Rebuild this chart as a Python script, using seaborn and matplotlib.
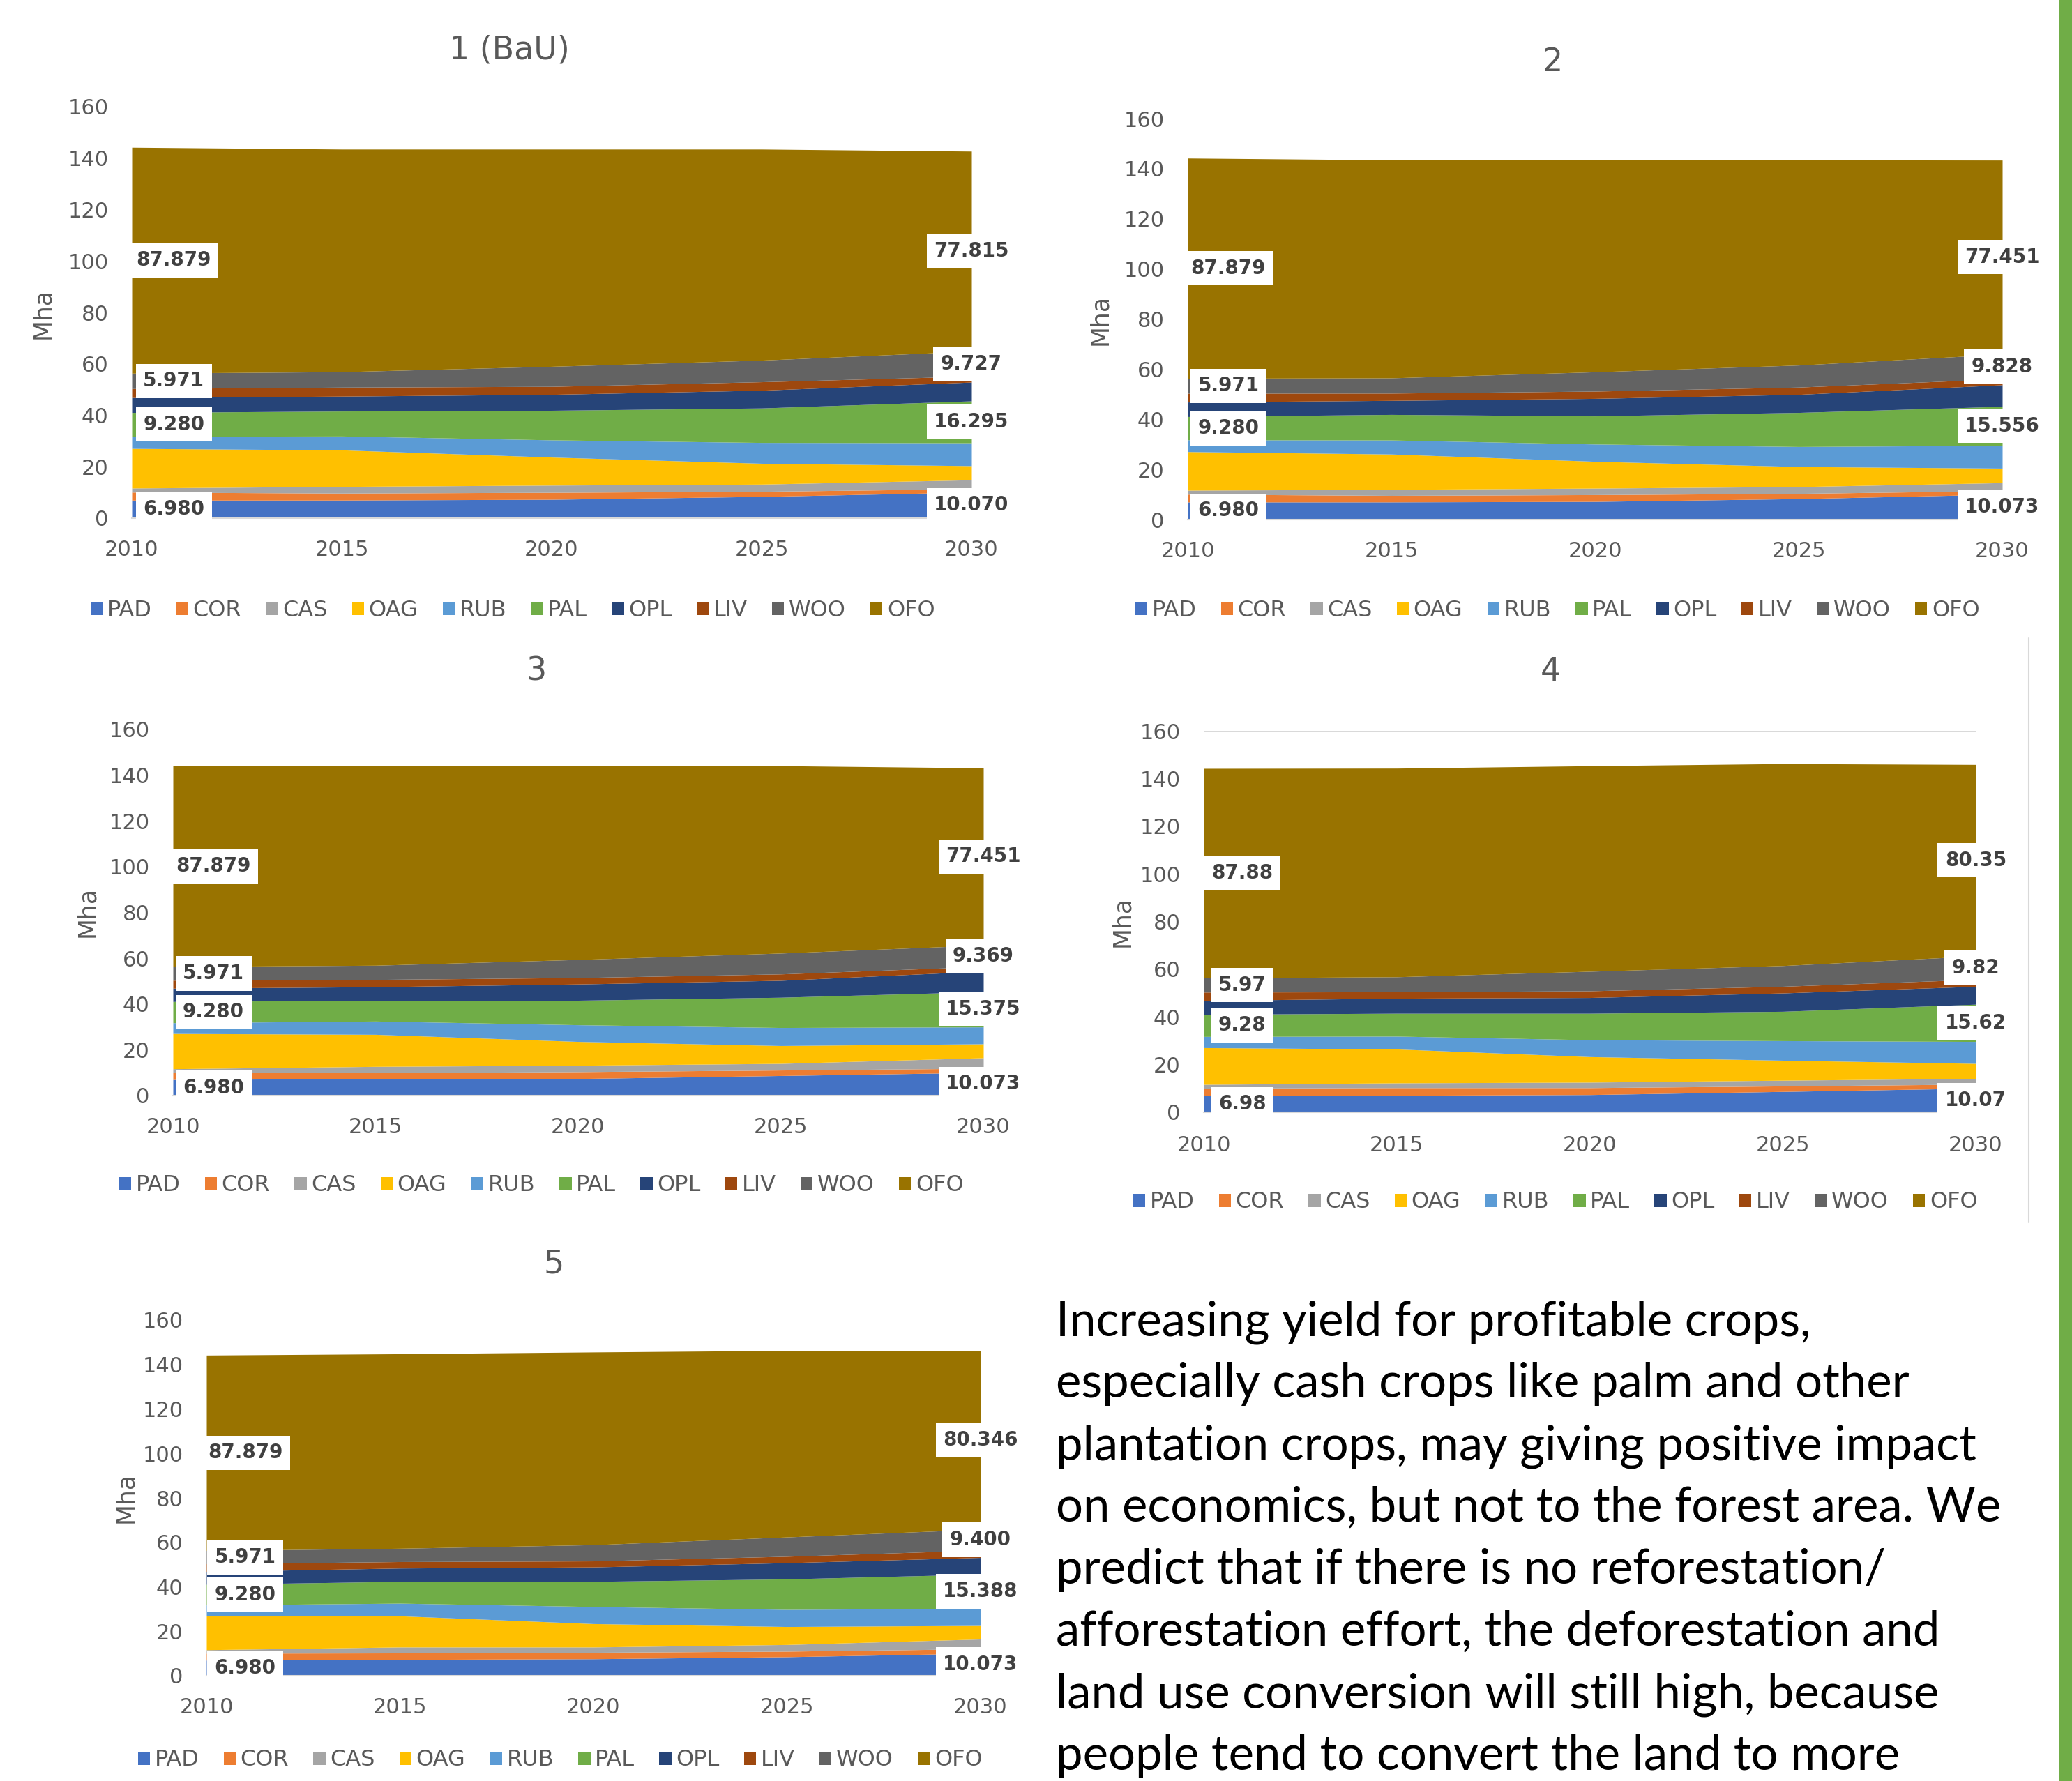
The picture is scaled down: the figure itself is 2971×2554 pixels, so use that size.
import numpy as np
import pandas as pd
import matplotlib
matplotlib.use("Agg")
import matplotlib.pyplot as plt
from matplotlib.patches import Patch, Rectangle
from matplotlib.lines import Line2D
import seaborn as sns

YEARS = [2010, 2015, 2020, 2025, 2030]
CROPS = ["PAD", "COR", "CAS", "OAG", "RUB", "PAL", "OPL", "LIV", "WOO", "OFO"]
COLORS = ["#4472C4", "#ED7D31", "#A5A5A5", "#FFC000", "#5B9BD5",
          "#70AD47", "#264478", "#9E480E", "#636363", "#997300"]
LABELLED = ["PAD", "PAL", "WOO", "OFO"]
TITLES = ["1 (BaU)", "2", "3", "4", "5"]

# land use per class (Mha), 2010..2030
SCEN_1 = {
    "PAD": [6.980, 7.0, 7.3, 8.4, 10.070],
    "COR": [3.1, 2.7, 2.7, 2.0, 1.3],
    "CAS": [1.6, 2.6, 2.8, 2.8, 3.5],
    "OAG": [15.4, 14.2, 10.9, 8.1, 5.5],
    "RUB": [4.7, 5.4, 6.7, 8.1, 8.9],
    "PAL": [9.280, 9.7, 11.5, 13.4, 16.295],
    "OPL": [5.8, 5.8, 6.2, 6.9, 7.3],
    "LIV": [3.5, 3.5, 3.1, 3.3, 2.3],
    "WOO": [5.971, 6.0, 7.8, 8.4, 9.727],
    "OFO": [87.879, 86.6, 84.5, 82.1, 77.815],
}
SCEN_2 = {
    "PAD": [6.980, 7.0, 7.2, 8.3, 10.073],
    "COR": [3.1, 2.6, 2.7, 2.1, 1.4],
    "CAS": [1.6, 2.4, 2.6, 2.7, 3.2],
    "OAG": [15.4, 14.1, 10.7, 8.0, 5.8],
    "RUB": [4.7, 5.6, 6.9, 8.0, 9.1],
    "PAL": [9.280, 10.2, 11.2, 13.6, 15.556],
    "OPL": [5.8, 5.6, 7.0, 7.2, 8.6],
    "LIV": [3.5, 2.9, 2.9, 2.9, 2.4],
    "WOO": [5.971, 6.1, 7.7, 8.8, 9.828],
    "OFO": [87.879, 87.0, 84.6, 81.9, 77.451],
}
SCEN_3 = {
    "PAD": [6.980, 7.4, 7.4, 8.7, 10.073],
    "COR": [3.1, 2.5, 3.0, 2.4, 1.8],
    "CAS": [1.6, 2.8, 2.8, 2.9, 4.6],
    "OAG": [15.4, 14.0, 10.4, 7.8, 6.1],
    "RUB": [4.7, 5.8, 7.3, 7.9, 7.4],
    "PAL": [9.280, 9.1, 10.7, 13.2, 15.375],
    "OPL": [5.8, 5.9, 7.1, 7.4, 9.0],
    "LIV": [3.5, 3.2, 2.8, 2.8, 2.0],
    "WOO": [5.971, 6.2, 7.9, 9.1, 9.369],
    "OFO": [87.879, 87.2, 84.7, 81.9, 77.451],
}
SCEN_4 = {
    "PAD": [6.98, 7.1, 7.4, 8.7, 10.07],
    "COR": [3.1, 3.2, 2.9, 2.3, 1.7],
    "CAS": [1.6, 2.0, 2.3, 2.4, 2.4],
    "OAG": [15.4, 14.2, 10.7, 8.4, 6.3],
    "RUB": [4.7, 5.4, 7.1, 8.2, 9.2],
    "PAL": [9.28, 9.6, 11.1, 12.3, 15.62],
    "OPL": [5.8, 6.3, 6.6, 7.7, 7.5],
    "LIV": [3.5, 2.7, 2.8, 2.8, 2.9],
    "WOO": [5.97, 6.3, 8.2, 8.7, 9.82],
    "OFO": [87.88, 87.5, 86.2, 84.7, 80.35],
}
SCEN_5 = {
    "PAD": [6.980, 7.3, 7.6, 8.5, 10.073],
    "COR": [3.1, 2.9, 2.9, 2.5, 2.0],
    "CAS": [1.6, 2.7, 2.4, 3.0, 4.4],
    "OAG": [15.4, 14.0, 10.5, 8.1, 6.1],
    "RUB": [4.7, 5.7, 7.7, 7.7, 7.7],
    "PAL": [9.280, 9.8, 11.3, 13.7, 15.388],
    "OPL": [5.8, 6.0, 6.5, 7.3, 7.5],
    "LIV": [3.5, 2.9, 2.7, 2.9, 3.3],
    "WOO": [5.971, 6.0, 7.3, 8.7, 9.400],
    "OFO": [87.879, 87.5, 86.7, 83.9, 80.346],
}
SCENARIOS = [SCEN_1, SCEN_2, SCEN_3, SCEN_4, SCEN_5]
LABEL_FMT = ["{:.3f}", "{:.3f}", "{:.3f}", "{:.2f}", "{:.3f}"]

TEXT_LINES = [
    "Increasing yield for profitable crops,",
    "especially cash crops like palm and other",
    "plantation crops, may giving positive impact",
    "on economics, but not to the forest area. We",
    "predict that if there is no reforestation/",
    "afforestation effort, the deforestation and",
    "land use conversion will still high, because",
    "people tend to convert the land to more",
]

W, H = 2971, 2554
# pixel layout: axes (left, right, y of 0, y of 160), title xy, Mha xy, legend xy
LAYOUT = [
    dict(ax=(189, 1393, 743, 153), title=(730, 72), mha=(61, 449), leg=(735, 875)),
    dict(ax=(1703, 2871, 745, 170), title=(2226, 89), mha=(1577, 458), leg=(2233, 875)),
    dict(ax=(248, 1410, 1571, 1046), title=(769, 963), mha=(125, 1307), leg=(776, 1700)),
    dict(ax=(1726, 2833, 1595, 1048), title=(2223, 964), mha=(1609, 1321), leg=(2230, 1724)),
    dict(ax=(296, 1406, 2403, 1893), title=(794, 1813), mha=(180, 2147), leg=(803, 2524)),
]

sns.set_theme(style="white")
plt.rcParams["font.family"] = ["DejaVu Sans"]

GREY = "#595959"
fig = plt.figure(figsize=(W / 100, H / 100), dpi=100)
fig.patch.set_facecolor("white")


def fx(px):
    return px / W


def fy(py):
    return 1 - py / H


def draw_chart(ax, scen, fmt, grid=False):
    df = pd.DataFrame(scen, index=YEARS)[CROPS]
    ax.stackplot(df.index, df.T.values, colors=COLORS, linewidth=0, zorder=2)
    ax.set_xlim(2010, 2030)
    ax.set_ylim(0, 160)
    ax.set_xticks(YEARS)
    ax.set_yticks(range(0, 161, 20))
    ax.tick_params(axis="both", length=0, labelsize=22, labelcolor=GREY)
    ax.tick_params(axis="y", pad=24)
    ax.tick_params(axis="x", pad=22)
    sns.despine(ax=ax, left=True)
    ax.spines["bottom"].set_color("#D9D9D9")
    ax.spines["bottom"].set_linewidth(1.5)
    ax.spines["bottom"].set_zorder(3)
    if grid:
        ax.set_axisbelow(True)
        ax.yaxis.grid(True, color="#D9D9D9", linewidth=1.5)
        ax.tick_params(axis="x", length=9, width=1.5, color="#D9D9D9",
                       direction="out", pad=15)
    else:
        ax.grid(False)

    tops = df.cumsum(axis=1)
    bottoms = tops - df
    for crop in LABELLED:
        for year, xpos in ((2010, 2011.0), (2030, 2030.0)):
            val = df.loc[year, crop]
            mid = bottoms.loc[year, crop] + val / 2
            ax.text(xpos, mid, fmt.format(val), ha="center", va="center",
                    fontsize=20, fontweight="bold", color="#404040", zorder=5,
                    clip_on=False,
                    bbox=dict(boxstyle="square,pad=0.38", facecolor="white",
                              edgecolor="none"))


handles = [Patch(facecolor=c, edgecolor="none", label=n) for n, c in zip(CROPS, COLORS)]

for i, (scen, lay) in enumerate(zip(SCENARIOS, LAYOUT)):
    l, r, y0, y160 = lay["ax"]
    ax = fig.add_axes([fx(l), fy(y0), (r - l) / W, (y0 - y160) / H])
    draw_chart(ax, scen, LABEL_FMT[i], grid=(i == 3))
    fig.text(fx(lay["title"][0]), fy(lay["title"][1]), TITLES[i], ha="center",
             va="center", fontsize=33, color=GREY)
    fig.text(fx(lay["mha"][0]), fy(lay["mha"][1]), "Mha", ha="center", va="center",
             rotation=90, fontsize=25, color=GREY)
    fig.legend(handles=handles, loc="center",
               bbox_to_anchor=(fx(lay["leg"][0]), fy(lay["leg"][1])),
               ncol=10, frameon=False, fontsize=23, labelcolor=GREY,
               handlelength=0.55, handleheight=0.55, handletextpad=0.2,
               columnspacing=1.1, borderaxespad=0)

# frame edge of chart 4 and slide accent bar
fig.add_artist(Line2D([fx(2909), fx(2909)], [fy(915), fy(1753)], color="#D9D9D9", lw=1.5))
fig.add_artist(Rectangle((fx(2952), 0), 19 / W, 1, transform=fig.transFigure,
                         facecolor="#70AD47", edgecolor="none"))

# body text, sized so the widest line spans the same width as on the slide
renderer = fig.canvas.get_renderer()
body = []
for k, txt in enumerate(TEXT_LINES):
    body.append(fig.text(fx(1514), fy(1915 + 89 * k), txt, ha="left", va="baseline",
                         fontsize=50, color="black", family=["Lato", "DejaVu Sans"]))
widest = max(t.get_window_extent(renderer).width for t in body)
for t in body:
    t.set_fontsize(50 * 1355 / widest)

fig.savefig("out.png", dpi=100, facecolor="white")
